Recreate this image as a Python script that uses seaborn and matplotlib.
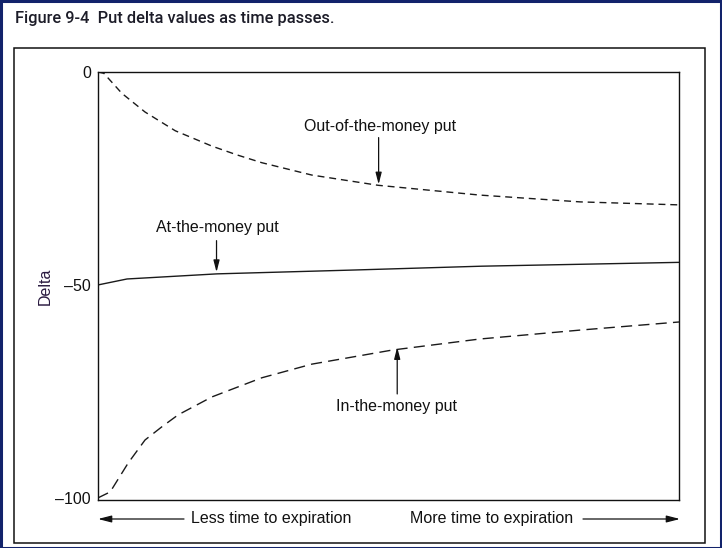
import numpy as np
import pandas as pd
import matplotlib
matplotlib.use("Agg")
import matplotlib.pyplot as plt
from matplotlib.patches import Rectangle, FancyArrowPatch
import seaborn as sns

# ---- data ----
otm_x = [0, 1, 4.1, 8.1, 13.3, 19.6, 24.0, 28.2, 36.8, 48.2, 65.7, 83.0, 100]
otm_y = [0, -0.3, -5.0, -9.4, -13.8, -17.4, -19.5, -21.3, -24.2, -26.6, -28.9, -30.5, -31.2]

atm_x = [0, 5, 20.5, 44, 66, 100]
atm_y = [-50, -48.6, -47.4, -46.5, -45.6, -44.7]

itm_x = [0, 2.1, 5.2, 8.1, 11.0, 13.8, 19.6, 28.2, 36.8, 50.6, 65.7, 83.0, 100]
itm_y = [-100, -98.6, -91.8, -86.4, -83.3, -80.5, -76.3, -71.8, -68.6, -65.3, -62.7, -60.6, -58.7]

y_ticks = [0, -50, -100]
y_tick_labels = ["0", "\u201350", "\u2013100"]

labels = {
    "otm": "Out-of-the-money put",
    "atm": "At-the-money put",
    "itm": "In-the-money put",
}
title = "Figure 9-4  Put delta values as time passes."
y_label = "Delta"
less_txt = "Less time to expiration"
more_txt = "More time to expiration"

# ---- plot ----
sns.set_style("white")
plt.rcParams["font.family"] = ["Liberation Sans", "DejaVu Sans"]

W, H = 722, 548
fig = plt.figure(figsize=(W / 100, H / 100), dpi=100)
ax = fig.add_axes([98 / W, 1 - 500 / H, (679 - 98) / W, (500 - 72) / H])

sns.lineplot(x=otm_x, y=otm_y, ax=ax, color="#1a1a1a", lw=1.0,
             linestyle=(0, (5, 3.5)))
sns.lineplot(x=atm_x, y=atm_y, ax=ax, color="#1a1a1a", lw=1.0)
sns.lineplot(x=itm_x, y=itm_y, ax=ax, color="#1a1a1a", lw=1.0,
             linestyle=(0, (8, 4.5)))

ax.set_xlim(0, 100)
ax.set_ylim(-100.5, 0)
ax.set_xticks([])
ax.set_yticks(y_ticks)
ax.set_yticklabels(y_tick_labels, fontsize=11.5, color="#111111")
ax.tick_params(axis="y", length=0, pad=5)
for s in ax.spines.values():
    s.set_visible(True)
    s.set_color("#111111")
    s.set_linewidth(1.0)
ax.set_xlabel("")
ax.set_ylabel(y_label, fontsize=11.5, color="#2a1a40")
ax.yaxis.set_label_coords(-(98 - 53) / (679 - 98), 0.5)

head = "-|>,head_length=0.7,head_width=0.18"
arrow_kw = dict(arrowstyle=head, color="#111111", lw=0.9, shrinkA=0, shrinkB=0)

ax.text(48.5, -12.9, labels["otm"], ha="center", va="center", fontsize=11.5, color="#111111")
ax.annotate("", xy=(48.3, -26.4), xytext=(48.3, -15.4), arrowprops=arrow_kw)

ax.text(20.5, -36.4, labels["atm"], ha="center", va="center", fontsize=11.5, color="#111111")
ax.annotate("", xy=(20.4, -47.0), xytext=(20.4, -39.6), arrowprops=arrow_kw)

ax.text(51.3, -78.5, labels["itm"], ha="center", va="center", fontsize=11.5, color="#111111")
ax.annotate("", xy=(51.5, -64.6), xytext=(51.5, -75.6), arrowprops=arrow_kw)

# bottom direction arrows (figure coordinates)
yb = 1 - 519 / H
fig.text(271 / W, yb, less_txt, ha="center", va="center", fontsize=11.5, color="#111111")
fig.text(492 / W, yb, more_txt, ha="center", va="center", fontsize=11.5, color="#111111")
fig.patches.append(FancyArrowPatch(
    (184 / W, yb), (98 / W, yb), transform=fig.transFigure,
    arrowstyle=head, mutation_scale=11.5, color="#111111",
    lw=0.9, shrinkA=0, shrinkB=0))
fig.patches.append(FancyArrowPatch(
    (583 / W, yb), (680 / W, yb), transform=fig.transFigure,
    arrowstyle=head, mutation_scale=11.5, color="#111111",
    lw=0.9, shrinkA=0, shrinkB=0))

# title
fig.text(15 / W, 1 - 19 / H, title, ha="left", va="center", fontsize=11.8,
         family=["Roboto", "DejaVu Sans"], weight="medium", color="#1c1c28")

# inner frame
fig.patches.append(Rectangle((14 / W, 1 - 543 / H), (705 - 14) / W, (543 - 48) / H,
                             transform=fig.transFigure, fill=False,
                             edgecolor="#111111", lw=1.1))
# outer navy border
fig.patches.append(Rectangle((0.5 / W, 0.5 / H), 1 - 1.5 / W, 1 - 1.5 / H,
                             transform=fig.transFigure, fill=False,
                             edgecolor="#12236b", lw=2.2))

fig.savefig("out.png", dpi=100, facecolor="white")
